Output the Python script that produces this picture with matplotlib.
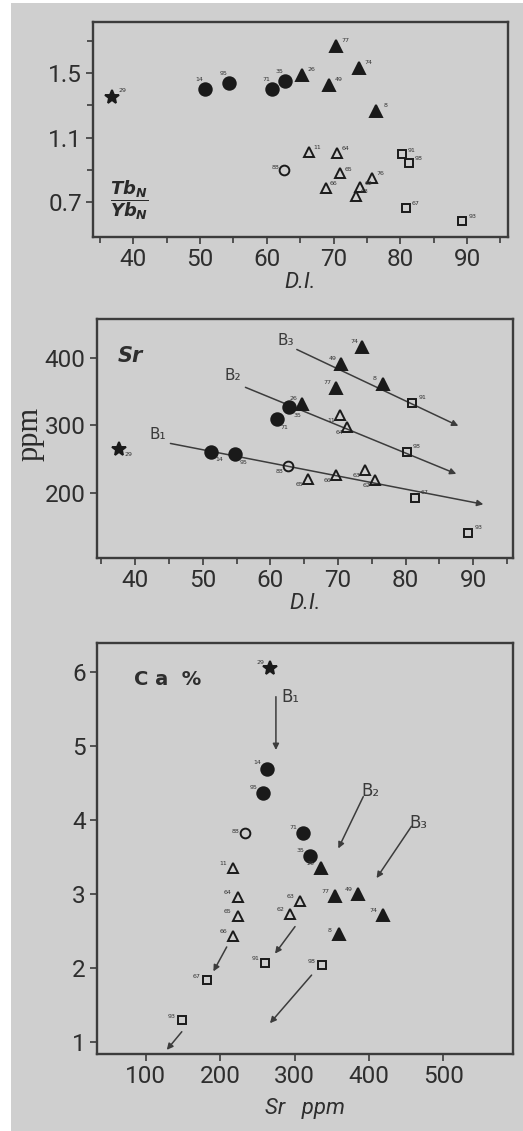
# Tb/Yb, Sr and Ca against D.I. and Sr -- three stacked scatter panels
import matplotlib
matplotlib.use('Agg')
import matplotlib.pyplot as plt
from matplotlib.patches import Rectangle

plt.rcParams['font.family'] = ['Roboto', 'DejaVu Sans']
plt.rcParams['mathtext.fontset'] = 'custom'
plt.rcParams['mathtext.it'] = 'DejaVu Sans:italic:bold'
plt.rcParams['mathtext.rm'] = 'DejaVu Sans:bold'

BG = '#cfcfcf'
INK = '#1a1a1a'
LINE = '#3c3c3c'

# ---- panel 1 : TbN/YbN vs D.I. ----
tb_star_di, tb_star = [36.9], [1.35]
tb_fcirc_di = [50.7, 54.4, 60.8, 62.8]
tb_fcirc = [1.40, 1.44, 1.40, 1.45]
tb_ftri_di = [65.3, 70.3, 69.3, 73.8, 76.4]
tb_ftri = [1.49, 1.67, 1.425, 1.535, 1.265]
tb_ocirc_di, tb_ocirc = [62.6], [0.897]
tb_otri_di = [66.3, 70.5, 71.0, 68.8, 73.4, 74.0, 75.7]
tb_otri = [1.01, 1.005, 0.877, 0.787, 0.735, 0.79, 0.85]
tb_sq_di = [80.3, 81.3, 80.8, 89.3]
tb_sq = [0.995, 0.943, 0.663, 0.579]

# ---- panel 2 : Sr vs D.I. ----
sr_star_di, sr_star = [37.6], [265]
sr_fcirc_di = [51.2, 54.8, 60.9, 62.8]
sr_fcirc = [261, 257, 309, 327]
sr_ftri_di = [64.6, 69.7, 70.4, 73.6, 76.7]
sr_ftri = [332, 355, 390, 416, 361]
sr_ocirc_di, sr_ocirc = [62.6], [240]
sr_otri_di = [70.3, 71.4, 65.5, 69.7, 74.0, 75.5]
sr_otri = [315, 298, 220, 227, 234, 219]
sr_sq_di = [81.0, 80.2, 81.4, 89.3]
sr_sq = [333, 261, 192, 141]

# ---- panel 3 : Ca vs Sr ----
ca_star_sr, ca_star = [267], [6.05]
ca_fcirc_sr = [262.6, 258, 311.9, 320.8]
ca_fcirc = [4.69, 4.36, 3.82, 3.51]
ca_ftri_sr = [335, 354, 385.8, 419.4, 360]
ca_ftri = [3.35, 2.97, 3.0, 2.71, 2.45]
ca_ocirc_sr, ca_ocirc = [233.5], [3.82]
ca_otri_sr = [217.8, 223.6, 223.6, 217.8, 307.4, 294]
ca_otri = [3.35, 2.96, 2.70, 2.43, 2.90, 2.73]
ca_sq_sr = [260.4, 336.5, 182, 148.4]
ca_sq = [2.07, 2.03, 1.83, 1.29]

# sample numbers written beside the points (barely legible in the scan)
star_ids = ['29']
fcirc_ids = ['14', '95', '71', '35']
ftri_ids = ['26', '77', '49', '74', '8']
ocirc_ids = ['88']
otri_ids = ['11', '64', '65', '66', '63', '62', '76']
sq_ids = ['91', '98', '67', '93']

# trend arrows (start, end) and their names
sr_trends = [((45.2, 273), (91.5, 183), 'B\u2081', (43.4, 286)),
             ((56.3, 356), (87.5, 228), 'B\u2082', (54.5, 374)),
             ((63.9, 412), (87.8, 299), 'B\u2083', (62.2, 426))]
ca_trends = [((275, 5.66), (275, 4.94), 'B\u2081', (294, 5.66)),
             ((392.5, 4.31), (358.9, 3.61), 'B\u2082', (401.5, 4.38)),
             ((457.4, 3.91), (410.4, 3.21), 'B\u2083', (466, 3.95))]
ca_small_arrows = [((208.8, 2.28), (190.9, 1.95)),
                   ((300.7, 2.555), (273.8, 2.19)),
                   ((323, 1.90), (267, 1.25)),
                   ((148.4, 1.135), (128.2, 0.89))]


def style_axes(ax):
    ax.set_facecolor(BG)
    for s in ax.spines.values():
        s.set_color(LINE)
        s.set_linewidth(1.7)
    ax.tick_params(which='both', direction='out', color=LINE, width=1.2,
                   labelcolor='#2e2e2e', labelsize=17.5, pad=3)
    ax.tick_params(which='major', length=5)
    ax.tick_params(which='minor', length=4)


def draw_groups(ax, groups):
    for xs, ys, marker, size, face, ids, dx, dy in groups:
        ax.plot(xs, ys, linestyle='none', marker=marker, markersize=size,
                markerfacecolor=face, markeredgecolor=INK,
                markeredgewidth=1.4, zorder=3)
        for x, y, t in zip(xs, ys, ids):
            ax.annotate(t, (x, y), xytext=(dx, dy), textcoords='offset points',
                        fontsize=4.5, color='#333333', ha='center',
                        va='center', family='DejaVu Sans', zorder=4)


def arrow(ax, start, end):
    ax.annotate('', xy=end, xytext=start,
                arrowprops=dict(arrowstyle='-|>', color=LINE, lw=1.1,
                                mutation_scale=9, shrinkA=0, shrinkB=0),
                zorder=2)


fig = plt.figure(figsize=(5.23, 11.31), dpi=100)
fig.patch.set_facecolor(BG)
fig.patches.append(Rectangle((0, 0), 11 / 523, 1, transform=fig.transFigure,
                             facecolor='white', edgecolor='none', zorder=-1))
fig.patches.append(Rectangle((0, 1 - 3 / 1131), 1, 3 / 1131,
                             transform=fig.transFigure, facecolor='white',
                             edgecolor='none', zorder=-1))

# panel 1
ax1 = fig.add_axes([0.178, 0.7905, 0.793, 0.190])
style_axes(ax1)
draw_groups(ax1, [
    (tb_star_di, tb_star, '*', 10, INK, star_ids, 7, 5),
    (tb_fcirc_di, tb_fcirc, 'o', 9, INK, fcirc_ids, -4, 7),
    (tb_ftri_di, tb_ftri, '^', 8, INK, ftri_ids, 7, 4),
    (tb_ocirc_di, tb_ocirc, 'o', 7, 'none', ocirc_ids, -6, 2),
    (tb_otri_di, tb_otri, '^', 6.5, 'none', otri_ids, 6, 3),
    (tb_sq_di, tb_sq, 's', 6, 'none', sq_ids, 7, 3),
])
ax1.set_xlim(34, 96.1)
ax1.set_ylim(0.48, 1.82)
ax1.set_xticks([40, 50, 60, 70, 80, 90])
ax1.set_xticks([35, 45, 55, 65, 75, 85, 95], minor=True)
ax1.set_yticks([0.7, 1.1, 1.5])
ax1.set_yticks([0.9, 1.3, 1.7], minor=True)
ax1.set_yticklabels(['0.7', '1.1', '1.5'])
ax1.set_xlabel('D.I.', fontsize=16, style='italic', color='#2e2e2e',
               labelpad=1)
ax1.text(0.04, 0.17, r'$\dfrac{Tb_N}{Yb_N}$', transform=ax1.transAxes,
         fontsize=13, color='#2a2a2a', va='center')

# panel 2
ax2 = fig.add_axes([0.185, 0.5069, 0.796, 0.211])
style_axes(ax2)
for start, end, name, (tx, ty) in sr_trends:
    arrow(ax2, start, end)
    ax2.text(tx, ty, name, fontsize=11, color='#3a3a3a', ha='center',
             va='center', family='DejaVu Sans')
draw_groups(ax2, [
    (sr_star_di, sr_star, '*', 10, INK, star_ids, 7, -4),
    (sr_fcirc_di, sr_fcirc, 'o', 9, INK, fcirc_ids, 6, -6),
    (sr_ftri_di, sr_ftri, '^', 8, INK, ftri_ids, -6, 4),
    (sr_ocirc_di, sr_ocirc, 'o', 7, 'none', ocirc_ids, -6, -4),
    (sr_otri_di, sr_otri, '^', 6.5, 'none', otri_ids, -6, -4),
    (sr_sq_di, sr_sq, 's', 6, 'none', sq_ids, 7, 4),
])
ax2.set_xlim(34.3, 95.9)
ax2.set_ylim(104, 457)
ax2.set_xticks([40, 50, 60, 70, 80, 90])
ax2.set_xticks([35, 45, 55, 65, 75, 85, 95], minor=True)
ax2.set_yticks([200, 300, 400])
ax2.set_xlabel('D.I.', fontsize=16, style='italic', color='#2e2e2e',
               labelpad=1)
ax2.set_ylabel('ppm', fontsize=22, family='Liberation Serif',
               color='#2a2a2a')
ax2.yaxis.set_label_coords(-0.125, 0.52)
ax2.text(0.05, 0.847, 'Sr', transform=ax2.transAxes, fontsize=15,
         style='italic', weight='bold', color='#2e2e2e', family='DejaVu Sans',
         va='center')

# panel 3
ax3 = fig.add_axes([0.185, 0.0678, 0.796, 0.364])
style_axes(ax3)
for start, end, name, (tx, ty) in ca_trends:
    arrow(ax3, start, end)
    ax3.text(tx, ty, name, fontsize=12, color='#3a3a3a', ha='center',
             va='center', family='DejaVu Sans')
for start, end in ca_small_arrows:
    arrow(ax3, start, end)
draw_groups(ax3, [
    (ca_star_sr, ca_star, '*', 10, INK, star_ids, -7, 4),
    (ca_fcirc_sr, ca_fcirc, 'o', 9, INK, fcirc_ids, -7, 4),
    (ca_ftri_sr, ca_ftri, '^', 8, INK, ftri_ids, -7, 3),
    (ca_ocirc_sr, ca_ocirc, 'o', 7, 'none', ocirc_ids, -7, 1),
    (ca_otri_sr, ca_otri, '^', 6.5, 'none', otri_ids, -7, 3),
    (ca_sq_sr, ca_sq, 's', 6, 'none', sq_ids, -7, 3),
])
ax3.set_xlim(34, 594)
ax3.set_ylim(0.83, 6.39)
ax3.set_xticks([100, 200, 300, 400, 500])
ax3.set_yticks([1, 2, 3, 4, 5, 6])
ax3.set_xlabel('Sr   ppm', fontsize=16, style='italic', color='#2e2e2e',
               labelpad=7)
ax3.text(0.09, 0.91, 'C a  %', transform=ax3.transAxes, fontsize=14,
         weight='bold', color='#2e2e2e', family='DejaVu Sans', va='center')

fig.savefig('out.png', dpi=100, facecolor=fig.get_facecolor())
